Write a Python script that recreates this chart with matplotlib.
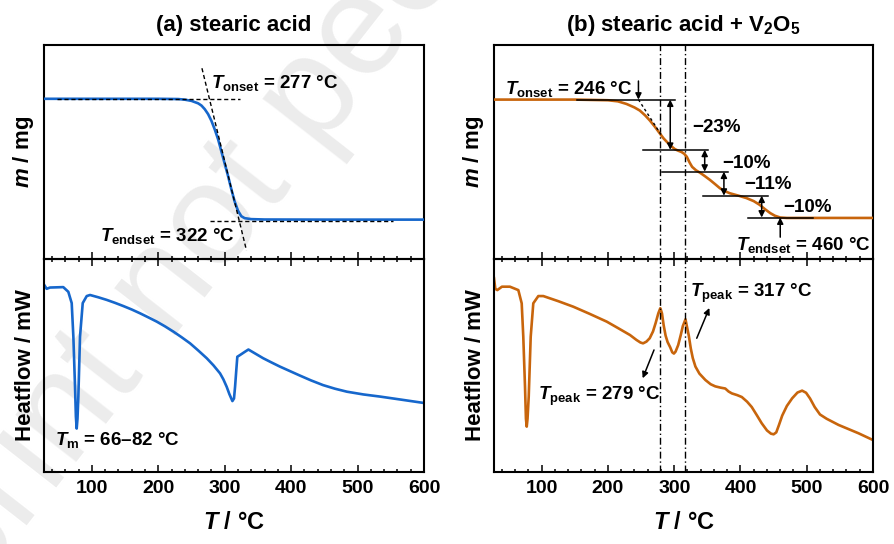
import matplotlib
matplotlib.use("Agg")
import matplotlib.pyplot as plt
from matplotlib.ticker import MultipleLocator

# ------------------------------------------------------------
# Data
# ------------------------------------------------------------

# (a) stearic acid, TGA (mass in % of start)
T_a_tga = [28, 100, 200, 230, 240, 250, 260, 265, 270, 275, 280, 285, 290, 295,
           300, 305, 310, 315, 320, 325, 330, 340, 360, 450, 600]
m_a_tga = [100, 100, 100, 99.8, 99.3, 98.3, 96.3, 94.5, 91.5, 87.5, 82, 75, 67, 57,
           47, 37, 26, 16, 8.5, 4, 2.4, 1.6, 1.3, 1.2, 1.2]

# (a) DSC heat flow (arb. units)
T_a_dsc = [28, 32, 37, 57, 64.6, 69.7, 72.2, 74.7, 76, 77.2, 78.4, 79.7, 82.2, 86.3,
           92.3, 97.3, 110, 122.4, 135, 147.5, 160, 172.6, 185, 197.7, 210, 222.8,
           235, 247.9, 260, 273, 283, 293, 298, 303, 307, 311.6, 314, 315.6, 317.5,
           319, 323, 330.7, 335.7, 346, 358, 370, 383, 398, 413, 430, 448, 466,
           484, 509, 534, 565, 600]
hf_a_dsc = [88.0, 86.0, 86.6, 86.8, 84.6, 79.3, 63.5, 40.0, 26, 20.4, 25, 35.4, 63.5, 79.3,
            82.6, 83.1, 82.0, 80.8, 79.4, 77.9, 76.3, 74.5, 72.6, 70.6, 68.4, 65.9,
            63.3, 60.4, 57.1, 53.4, 50.1, 46.3, 43.5, 40.0, 36.6, 33.3, 34.5, 40, 48,
            54.1, 54.9, 56.5, 57.5, 55.6, 53.4, 51.5, 49.5, 47.4, 45.3, 43.0, 40.8, 39.1,
            37.7, 36.4, 35.4, 34.0, 32.4]

# (b) stearic acid + V2O5, TGA
T_b_tga = [28, 150, 200, 215, 228, 240, 248, 256, 263, 271, 278.5, 284, 289, 295,
           301, 306, 311, 315, 319, 323, 327, 333, 339, 346, 354, 362, 369, 377,
           384, 397, 409, 420, 429, 437, 445, 452, 460, 470, 600]
m_b_tga = [100, 100, 99.7, 99.2, 98, 96.4, 95, 92.8, 90.5, 87.5, 84.4, 82.2, 80.6, 78.8,
           77.3, 76.6, 76, 75.2, 73.8, 71.3, 69.2, 67.6, 66.5, 65.0, 63.2, 61.2, 59.4, 58.0,
           57.1, 56.0, 54.9, 53.5, 51.8, 49.8, 48, 46.8, 46, 45.8, 45.8]

# (b) DSC
T_b_dsc = [28, 30, 33, 40, 52, 64.7, 69.8, 72.2, 74.8, 76.2, 77.4, 78.6, 80.4, 83.4,
           87.3, 94.9, 102.4, 125, 147.7, 172, 198.1, 215, 233.3, 243, 249, 253, 258,
           263, 268, 272, 276, 279, 281.5, 284, 287, 290, 294, 297, 299.5, 302, 306,
           310, 313, 317, 320, 322, 325, 328, 332, 338, 347, 355, 362, 370, 377, 382,
           387, 395, 402, 410, 417, 425, 432, 440, 446, 450, 454, 458, 463, 470, 478,
           486, 493, 499, 505, 512, 520, 530, 548, 578, 600]
hf_b_dsc = [91.0, 86.0, 85.4, 87.0, 87.0, 85.4, 79.2, 63.5, 40.0, 25, 21.3, 25, 35.4, 63.5,
            79.2, 82.6, 82.6, 80.2, 77.6, 74.3, 70.6, 67.6, 64.3, 62.0, 60.8, 60.4, 61.2,
            62.8, 66, 70, 74.5, 76.9, 74.5, 69, 64, 61, 58.5, 56.2, 55.6, 56.5, 59.6,
            64.5, 68.5, 71.7, 67, 64, 58, 53.5, 49.5, 46.2, 43.2, 41.2, 40.2, 39.6, 39.2, 37.8,
            36.9, 36.1, 35.2, 33.0, 30.5, 26.5, 22.9, 19.5, 18.0, 17.7, 18.6, 22, 26.5, 31, 34.6,
            37.3, 38.2, 37.2, 34.5, 30.5, 27.0, 25.0, 22.1, 18.2, 15.0]

# annotation values
onset_a, endset_a = 277, 322
onset_b, endset_b = 246, 460
peaks_b = [279, 317]
step_levels = [100, 77, 67, 56, 46]
step_line_x0 = [153, 253, 282, 343, 411]
step_line_x1 = [301, 351, 381, 441, 509]
step_arrow_x = [294, 346, 375, 432]
step_labels = ["\u221223%", "\u221210%", "\u221211%", "\u221210%"]
step_label_xy = [(327, 87.2), (373, 70.8), (405, 60.9), (464, 50.5)]

BLUE = "#1667CC"
ORANGE = "#C8650C"

plt.rcParams["font.family"] = ["Liberation Sans", "DejaVu Sans"]
plt.rcParams["font.weight"] = "bold"
plt.rcParams["axes.labelweight"] = "bold"
plt.rcParams["axes.titleweight"] = "bold"
plt.rcParams["mathtext.fontset"] = "custom"
plt.rcParams["mathtext.rm"] = "Liberation Sans:bold"
plt.rcParams["mathtext.it"] = "Liberation Sans:italic:bold"
plt.rcParams["mathtext.bf"] = "Liberation Sans:bold"

fig = plt.figure(figsize=(8.94, 5.44), dpi=100)

# faint watermark behind everything
fig.text(0.37, 0.86, "preprint not peer reviewed", rotation=52, fontsize=104,
         color="#ececec", ha="center", va="center", fontweight="normal",
         rotation_mode="anchor", zorder=-5)

W, H = 894, 544
def px_rect(x0, y0, x1, y1):
    return [x0 / W, 1 - y1 / H, (x1 - x0) / W, (y1 - y0) / H]

ax_a1 = fig.add_axes(px_rect(44, 45, 424, 259))
ax_a2 = fig.add_axes(px_rect(44, 259, 424, 472))
ax_b1 = fig.add_axes(px_rect(494, 45, 873, 259))
ax_b2 = fig.add_axes(px_rect(494, 259, 873, 472))

for ax in (ax_a1, ax_a2, ax_b1, ax_b2):
    ax.patch.set_alpha(0)
    ax.set_xlim(28, 600)
    ax.xaxis.set_major_locator(MultipleLocator(100))
    ax.xaxis.set_minor_locator(MultipleLocator(20))
    ax.set_yticks([])
    for s in ax.spines.values():
        s.set_linewidth(1.5)
    ax.tick_params(axis="x", which="both", direction="in", width=1.1,
                   labelsize=14, pad=6)
    ax.tick_params(axis="x", which="major", length=5)
    ax.tick_params(axis="x", which="minor", length=2.5)

for ax in (ax_a1, ax_b1):
    ax.tick_params(axis="x", which="both", bottom=True, top=False, labelbottom=False)
    ax.set_ylabel(r"$m$ / mg", fontsize=16, labelpad=6)
for ax in (ax_a2, ax_b2):
    ax.tick_params(axis="x", which="both", bottom=True, top=True)
    ax.set_ylim(0, 100)
    ax.set_ylabel("Heatflow / mW", fontsize=16, labelpad=6)
    ax.set_xlabel(r"$T$ / °C", fontsize=17, labelpad=10)
    for lab in ax.get_xticklabels():
        lab.set_fontweight("bold")

ax_a1.set_ylim(-31, 144)
ax_b1.set_ylim(27, 125)

ax_a1.set_title("(a) stearic acid", fontsize=16, pad=10)
ax_b1.set_title(r"(b) stearic acid + V$_2$O$_5$", fontsize=16, pad=10)

# ---------------- (a) TGA ----------------
ax_a1.plot(T_a_tga, m_a_tga, color=BLUE, lw=1.9, zorder=3)
dash = (0, (3, 2))
ax_a1.plot([48, 323], [100, 100], color="k", lw=1, ls=dash, zorder=4)
ax_a1.plot([278, 554], [0, 0], color="k", lw=1, ls=dash, zorder=4)
slope = (0 - 100) / (endset_a - onset_a)
tx = [onset_a + (125 - 100) / slope, endset_a + (-24 - 0) / slope]
ax_a1.plot(tx, [125, -24], color="k", lw=1, ls=dash, zorder=4)
ax_a1.text(279, 113, r"$T_\mathrm{onset}$ = 277 °C", fontsize=13.5, ha="left", va="center")
ax_a1.text(112, -12.5, r"$T_\mathrm{endset}$ = 322 °C", fontsize=13.5, ha="left", va="center")

# ---------------- (a) DSC ----------------
ax_a2.plot(T_a_dsc, hf_a_dsc, color=BLUE, lw=1.9)
ax_a2.text(45, 15, r"$T_\mathrm{m}$ = 66–82 °C", fontsize=13.5, ha="left", va="center")

# ---------------- (b) TGA ----------------
ax_b1.plot(T_b_tga, m_b_tga, color=ORANGE, lw=1.9, zorder=3)
for lev, x0, x1 in zip(step_levels, step_line_x0, step_line_x1):
    ax_b1.plot([x0, x1], [lev, lev], color="k", lw=1.1, zorder=4)
for i, xa in enumerate(step_arrow_x):
    ax_b1.annotate("", xy=(xa, step_levels[i + 1]), xytext=(xa, step_levels[i]),
                   arrowprops=dict(arrowstyle="<|-|>", color="k", lw=1.1,
                                   mutation_scale=9, shrinkA=0, shrinkB=0), zorder=5)
for lab, (lx, ly) in zip(step_labels, step_label_xy):
    ax_b1.text(lx, ly, lab, fontsize=13.5, ha="left", va="center")
ax_b1.plot([onset_b, 280], [100, 84], color="k", lw=1, ls=(0, (2, 2)), zorder=4)
ax_b1.annotate("", xy=(onset_b, 100), xytext=(onset_b, 108.5),
               arrowprops=dict(arrowstyle="-|>", color="k", lw=1.1,
                               mutation_scale=9, shrinkA=0, shrinkB=0))
ax_b1.text(45, 105, r"$T_\mathrm{onset}$ = 246 °C", fontsize=13.5, ha="left", va="center")
ax_b1.annotate("", xy=(endset_b, 46), xytext=(endset_b, 37),
               arrowprops=dict(arrowstyle="-|>", color="k", lw=1.1,
                               mutation_scale=9, shrinkA=0, shrinkB=0))
ax_b1.text(596, 33.3, r"$T_\mathrm{endset}$ = 460 °C", fontsize=13.5, ha="right", va="center")

# ---------------- (b) DSC ----------------
ax_b2.plot(T_b_dsc, hf_b_dsc, color=ORANGE, lw=1.9)
for ax in (ax_b1, ax_b2):
    for pk in peaks_b:
        ax.axvline(pk, color="k", lw=1, ls=(0, (5, 2, 1, 2)), zorder=2)
ax_b2.text(324, 84, r"$T_\mathrm{peak}$ = 317 °C", fontsize=13.5, ha="left", va="center")
ax_b2.annotate("", xy=(353, 77), xytext=(334, 62.8),
               arrowprops=dict(arrowstyle="-|>", color="k", lw=1.1,
                               mutation_scale=9, shrinkA=0, shrinkB=0))
ax_b2.text(279, 35.4, r"$T_\mathrm{peak}$ = 279 °C", fontsize=13.5, ha="right", va="center")
ax_b2.annotate("", xy=(252.4, 44), xytext=(269.5, 57.3),
               arrowprops=dict(arrowstyle="-|>", color="k", lw=1.1,
                               mutation_scale=9, shrinkA=0, shrinkB=0))

fig.savefig("out.png", dpi=100)
